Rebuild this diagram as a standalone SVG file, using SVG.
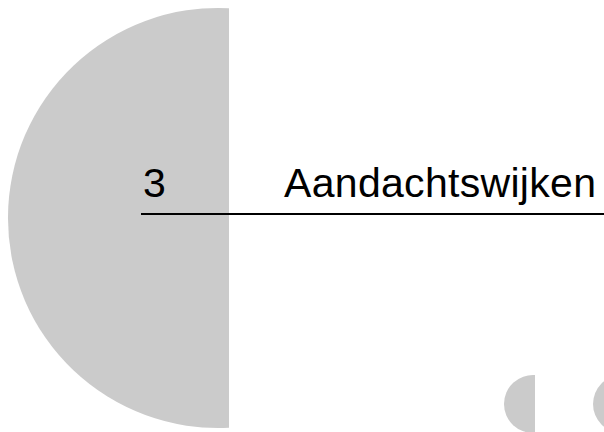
<svg xmlns="http://www.w3.org/2000/svg" width="604" height="432" viewBox="0 0 604 432">
<style>
.shape{fill:#cbcbcb;stroke:none}
.title{font-family:"Liberation Sans",Arial,sans-serif;font-size:41px;fill:#000}
</style>
<rect width="604" height="432" fill="#ffffff"/>
<g id="big-half-disc"><path class="shape" d="M229 8.29 A210 210 0 1 0 229 427.71 Z"/></g>
<g id="small-half-disc"><path class="shape" d="M535 375.07 A29 29 0 1 0 535 432.93 Z"/></g>
<g id="edge-disc"><circle class="shape" cx="622" cy="404" r="29"/></g>
<g id="heading">
<text class="title" x="143" y="197">3</text>
<text class="title" x="284" y="197" textLength="312" lengthAdjust="spacing">Aandachtswijken</text>
<line x1="141" y1="214" x2="604" y2="214" stroke="#000" stroke-width="2"/>
</g>
</svg>
